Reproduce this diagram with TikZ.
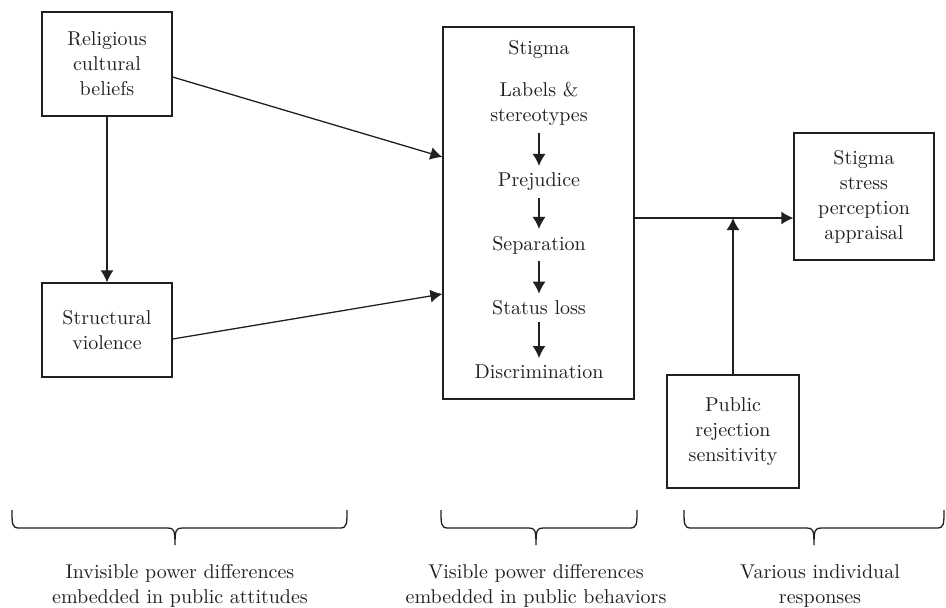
\documentclass[tikz,border=0pt]{standalone}
\usepackage{tikz}
\usetikzlibrary{
    positioning,
    arrows.meta
}

\definecolor{ink}{RGB}{35,31,32}

\begin{document}
\begin{tikzpicture}[x=0.5pt, y=-0.5pt,
        every node/.style={font=\fontsize{10}{12.5}\selectfont, text=ink, align=center},
        box/.style={draw=ink, line width=0.65pt},
        link/.style={draw=ink, line width=0.65pt, -{Latex[length=6pt, width=6.5pt]}},
        bracket/.style={draw=ink, line width=0.65pt}]
            \useasboundingbox (0,0) rectangle (946,607);

            % outer boxes
            \node[box, minimum width=65pt, minimum height=52pt] (rel) at (107,64) {Religious\\cultural\\beliefs};
            \node[box, minimum width=65pt, minimum height=47pt] (struc) at (107,330) {Structural\\violence};
            \node[box, minimum width=95.5pt, minimum height=186pt] (stigma) at (538.5,213) {};
            \node[box, minimum width=70pt, minimum height=63.5pt] (stress) at (864,196.5) {Stigma\\stress\\perception\\appraisal};
            \node[box, minimum width=66pt, minimum height=56.5pt] (pub) at (733,431.5) {Public\\rejection\\sensitivity};

            % stages inside the stigma box
            \node (stg) at (539,50) {Stigma};
            \node (lab) at (539,104) {Labels \&\\stereotypes};
            \foreach \name/\y/\txt in {prej/182/Prejudice, sep/245/Separation, loss/308/Status loss, disc/372/Discrimination} {
                \node (\name) at (539,\y) {\txt};
            }
            \foreach \a/\b in {lab/prej, prej/sep, sep/loss, loss/disc} {
                \draw[link] (\a) -- (\b);
            }

            \draw[link] (rel) -- (struc);
            \draw[link] (rel.east |- 0,77) -- (stigma.west |- 0,157);
            \draw[link] (struc.east |- 0,339) -- (stigma.west |- 0,294);

            \coordinate (join) at (733,218);
            \draw[link] (stigma.east |- join) -- (stress.west |- join);
            \draw[link] (pub) -- (join);

            % braces and captions
            \foreach \a/\m/\b in {12/175/347, 441/536/637, 684/814/944} {
                \draw[bracket] (\a,510) .. controls (\a,524) and (\a,528) .. (\a+7,528)
                    -- (\m-7,528) .. controls (\m-1,528) and (\m,530) .. (\m,545)
                    .. controls (\m,530) and (\m+1,528) .. (\m+7,528)
                    -- (\b-7,528) .. controls (\b,528) and (\b,524) .. (\b,510);
            }
            \node (invis) at (180,586) {Invisible power differences\\embedded in public attitudes};
            \node (vis) at (536,586) {Visible power differences\\embedded in public behaviors};
            \node (var) at (820,586) {Various individual\\responses};
        \end{tikzpicture}
\end{document}
